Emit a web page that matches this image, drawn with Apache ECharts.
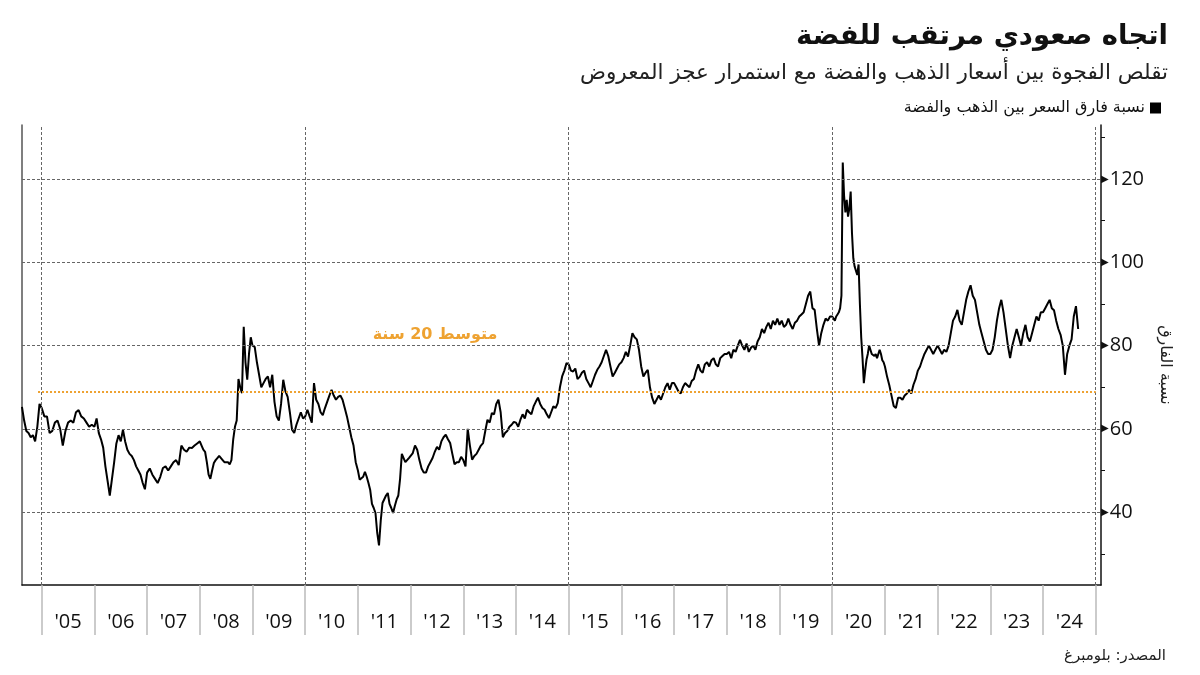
<!DOCTYPE html>
<html><head><meta charset="utf-8">
<script src="https://cdn.jsdelivr.net/npm/echarts@6/dist/echarts.min.js"></script>
<style>html,body{margin:0;padding:0;background:#fff}#c{width:1200px;height:675px}</style>
</head><body><div id="c"></div>
<script>
const titleText = 'اتجاه صعودي مرتقب للفضة';
const subtitleText = 'تقلص الفجوة بين أسعار الذهب والفضة مع استمرار عجز المعروض';
const seriesName = 'نسبة فارق السعر بين الذهب والفضة';
const axisName = 'نسبة الفارق';
const avgLabel = 'متوسط 20 سنة';
const sourceText = 'المصدر: بلومبرغ';
const average20y = 68.9;
const avgStart = 2004.93, avgEnd = 2025;
const yearTicks = [2005,2006,2007,2008,2009,2010,2011,2012,2013,2014,2015,2016,2017,2018,2019,2020,2021,2022,2023,2024,2025];
const yearLabels = [2005,2006,2007,2008,2009,2010,2011,2012,2013,2014,2015,2016,2017,2018,2019,2020,2021,2022,2023,2024];
const yLabelValues = [40,60,80,100,120];
const yMinorTicks = [30,50,70,90,110,130];
const gridYears = [2005,2010,2015,2020,2025];

// gold/silver ratio, evenly spaced within each year
const y2004 = [65.3, 62, 59.5, 59, 58, 58.5, 57, 60.5, 66];
const y2005 = [65, 63, 63, 59, 59.5, 61.5, 62, 60, 56, 59.5, 61.5, 62, 61.5, 64, 64.5, 63, 62.5, 61.5, 60.5, 61];
const y2006 = [60.5, 62.5, 59, 57.5, 55.5, 51, 47.5, 44, 48, 52, 56.5, 58.5, 57, 59.8, 57, 55, 54, 53.5, 52.5, 51, 50, 49, 47, 45.5];
const y2007 = [49.5, 50.5, 49, 48, 47, 48.5, 50.6, 51, 50, 51, 52, 52.5, 51.3, 56, 55, 54.5, 55.5, 55.4, 56, 56.5];
const y2008 = [57, 56, 55, 54.5, 52, 49, 48, 50, 51.8, 52.5, 53, 53.5, 53.3, 52.5, 52, 51.8, 52, 51.5, 52.5, 57.4, 60.5, 62, 72, 70, 68.6, 84.5, 76, 71.8, 78, 82];
const y2009 = [80, 79.7, 76, 73, 70, 71, 72, 72.6, 70, 73, 66.5, 63, 62, 66, 71.8, 69, 67.7, 64, 59.8, 59, 61, 62.5, 64, 62.5];
const y2010 = [63, 64.6, 63, 61.5, 71, 67, 66, 64, 63.3, 65, 66.5, 68, 69.4, 68, 67, 67.7, 68, 67, 65, 63, 60.5, 58, 56, 52];
const y2011 = [50, 47.8, 48, 48.5, 49.7, 48.5, 47, 45.3, 42, 41, 39.8, 35, 32, 38, 42.2, 42.5, 44, 44.6, 42, 41, 39.8, 41.5, 43, 44, 48, 54, 53, 52, 51.8, 53];
const y2012 = [53, 54.2, 56, 55, 52.5, 50.5, 49.5, 49.5, 51, 52, 53, 54.5, 55.7, 55, 57, 58, 58.6, 57.5, 56.6, 54, 51.5, 52, 52, 53.3];
const y2013 = [52.5, 51, 60, 56, 52.6, 53.5, 54, 55, 56, 56.6, 59.5, 62.2, 61.5, 63.8, 63.5, 66, 67, 64, 58, 59, 59.5, 60.5, 61, 61.7];
const y2014 = [61.5, 60.5, 62.2, 63.5, 62.5, 64.6, 64, 63.5, 65.4, 66.5, 67.5, 66, 65, 64.6, 63.5, 62.6, 64, 65.4, 65, 66.2, 70, 72.6, 74, 75.8];
const y2015 = [75.5, 74, 73.8, 74.5, 72, 72.5, 73.5, 74, 72, 71, 70, 71.5, 73, 74.2, 75, 76, 77.5, 79, 77.5, 75, 72.6, 73.5, 74.5, 75.5];
const y2016 = [76, 77, 78.5, 77.4, 80, 83, 82, 81.5, 79, 75, 72.6, 73.5, 74.2, 70, 67.5, 66, 67, 68, 67, 68.5, 70, 71, 69.4, 71];
const y2017 = [71, 70, 69, 68.5, 70, 71, 70.5, 70, 71.5, 72, 74, 75.5, 74, 73.5, 75.5, 76, 75, 76.5, 77, 75.5, 75, 77, 77.5, 78];
const y2018 = [78, 78.5, 77, 79, 78.5, 80, 81.4, 80, 79, 80.5, 78.5, 79.5, 80, 79, 81, 82, 84, 83, 84.5, 85.5, 84, 86, 85, 86.5];
const y2019 = [85, 86, 84.5, 85, 86.5, 85, 84, 85.5, 86, 87, 87.5, 88, 90, 92, 93, 89, 88.6, 84, 80, 83, 85, 86.5, 86, 87];
const y2020 = [87, 86.5, 86, 87, 87.5, 88, 89, 92, 124, 116, 112, 115, 111, 113, 117, 107, 101, 99, 98, 97, 99.5, 90, 82, 77, 71, 74, 76.6, 78, 80, 79, 78, 78, 77.5, 78, 77, 78, 79, 78, 76.5, 76];
const y2021 = [75, 72.5, 70.5, 68, 65.5, 65, 67.5, 67.5, 67, 68, 68.5, 69.4, 68.5, 70.6, 72, 74, 75, 76.6, 78, 79, 80, 79, 78, 79];
const y2022 = [80, 79, 78, 79, 78.5, 80, 83, 86, 87, 88.6, 86, 85, 88, 91, 93, 94.5, 92, 91, 88, 85, 83, 81, 79, 78];
const y2023 = [78, 79, 82, 86, 89, 91, 88, 84, 80, 77, 80, 82, 84, 82, 80, 83, 85, 82, 81, 83, 85, 87, 86, 88];
const y2024 = [88, 89, 90, 91, 89, 88.5, 86, 84, 82.6, 80, 73, 78, 80, 81.5, 87, 89.5, 84];

const yearly = {2004:y2004,2005:y2005,2006:y2006,2007:y2007,2008:y2008,2009:y2009,2010:y2010,2011:y2011,2012:y2012,2013:y2013,2014:y2014,2015:y2015,2016:y2016,2017:y2017,2018:y2018,2019:y2019,2020:y2020,2021:y2021,2022:y2022,2023:y2023,2024:y2024};
const partial = {2004:{n:24, offset:15}, 2024:{n:24, offset:0}};
const points = [];
Object.keys(yearly).map(Number).sort((a,b)=>a-b).forEach(yr => {
  const arr = yearly[yr];
  const p = partial[yr] || {n: arr.length, offset: 0};
  arr.forEach((v, i) => points.push([yr + (p.offset + i) / p.n, v]));
});

const AR = '"DejaVu Sans", sans-serif';
const NUM = '"Open Sans", "Noto Sans", sans-serif';
const orange = '#eea231';

const chart = echarts.init(document.getElementById('c'), null, {renderer: 'canvas'});
chart.setOption({
  animation: false,
  backgroundColor: '#fff',
  grid: {left: 22, right: 99, top: 125, bottom: 90},
  legend: {
    data: [seriesName], right: 34, top: 95, align: 'right', icon: 'rect',
    itemWidth: 11, itemHeight: 11, itemGap: 5,
    textStyle: {fontSize: 16, fontFamily: AR, color: '#111'}
  },
  xAxis: {
    type: 'value', min: 2004.626, max: 2025.10,
    axisLine: {show: true, onZero: false, lineStyle: {color: '#111', width: 1.5}},
    axisTick: {show: true, customValues: yearTicks, length: 50, lineStyle: {color: '#bbb', width: 1.5}},
    axisLabel: {customValues: yearLabels.map(y => y + 0.5), formatter: v => "'" + String(Math.floor(v)).slice(2),
      fontSize: 20, fontFamily: NUM, color: '#111', margin: 27},
    splitLine: {show: false}
  },
  yAxis: [{
    type: 'value', position: 'right', min: 22.5, max: 133,
    axisLine: {show: true, lineStyle: {color: '#111', width: 1.5}},
    axisTick: {show: true, customValues: yMinorTicks, length: 4, lineStyle: {color: '#111', width: 1}},
    axisLabel: {customValues: yLabelValues, margin: 0, color: '#111',
      formatter: v => '{t|▶}{v|' + v + '}',
      rich: {t: {fontSize: 10, color: '#111', fontFamily: 'DejaVu Sans'}, v: {fontSize: 20, fontFamily: NUM, color: '#111', padding: [0,0,0,1]}}},
    splitLine: {show: false}
  }, {
    type: 'value', position: 'left', min: 22.5, max: 133,
    axisLine: {show: true, lineStyle: {color: '#555', width: 1.5}},
    axisTick: {show: false}, axisLabel: {show: false}, splitLine: {show: false}
  }],
  series: [{
    name: 'grid', type: 'line', data: [], silent: true, z: 1,
    markLine: {
      silent: true, symbol: 'none', label: {show: false},
      lineStyle: {color: '#666', type: [3, 2], width: 1},
      data: yLabelValues.map(v => ({yAxis: v})).concat(gridYears.map(y => ({xAxis: y})))
    }
  }, {
    name: 'avg', type: 'line', data: [], silent: true, z: 2,
    markLine: {
      silent: true, symbol: 'none', label: {show: false},
      lineStyle: {color: orange, type: [2, 2], width: 2},
      data: [[{coord: [avgStart, average20y]}, {coord: [avgEnd, average20y]}]]
    }
  }, {
    name: seriesName, type: 'line', data: points, z: 3,
    showSymbol: false, symbol: 'none', color: '#000',
    lineStyle: {color: '#000', width: 2}
  }],
  graphic: [
    {type: 'text', x: 1168, y: 37, style: {text: titleText, fill: '#111', font: 'bold 27.5px ' + AR, align: 'right', verticalAlign: 'middle', textAlign: 'right', textVerticalAlign: 'middle'}},
    {type: 'text', x: 1168, y: 73, style: {text: subtitleText, fill: '#222', font: '21.5px ' + AR, align: 'right', verticalAlign: 'middle', textAlign: 'right', textVerticalAlign: 'middle'}},
    {type: 'text', x: 1166, y: 656, style: {text: sourceText, fill: '#222', font: '15px ' + AR, align: 'right', verticalAlign: 'middle', textAlign: 'right', textVerticalAlign: 'middle'}},
    {type: 'text', x: 1165, y: 365, rotation: -Math.PI / 2, style: {text: axisName, fill: '#222', font: '16px ' + AR, align: 'center', verticalAlign: 'middle', textAlign: 'center', textVerticalAlign: 'middle'}},
    {type: 'text', x: 435, y: 335, style: {text: avgLabel, fill: orange, font: 'bold 16px ' + AR, align: 'center', verticalAlign: 'middle', textAlign: 'center', textVerticalAlign: 'middle'}}
  ]
});
</script></body></html>
